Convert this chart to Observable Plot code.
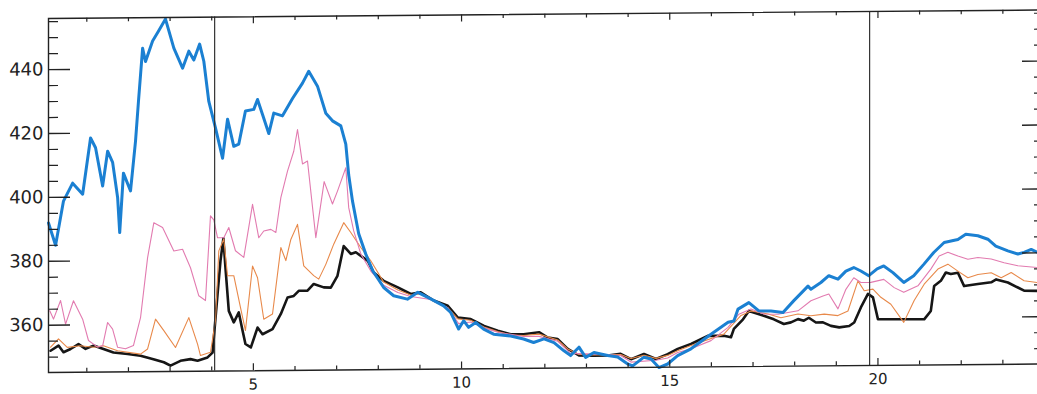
<!DOCTYPE html>
<html><head><meta charset="utf-8">
<script src="https://cdn.jsdelivr.net/npm/d3@7"></script>
<script src="https://cdn.jsdelivr.net/npm/@observablehq/plot@0.6"></script>
<style>
html,body{margin:0;padding:0;background:#fff;overflow:hidden}
#wrap{width:1037px;height:394px;overflow:hidden;position:relative;background:#fff}
#wrap svg{max-width:none !important;display:block}
</style></head><body><div id="wrap"></div>
<script>
// [hour, value] pairs
const blue = [[0.08,392],[0.25,385],[0.44,398.8],[0.66,404.4],[0.90,400.9],[1.09,418.5],[1.21,415.4],[1.38,403.4],[1.50,414.3],[1.62,410.8],[1.74,399.8],[1.79,388.8],[1.88,407.4],[2.05,401.8],[2.17,417.4],[2.24,429.7],[2.34,446.4],[2.41,442.3],[2.58,448.7],[2.72,451.7],[2.89,455.5],[3.09,446.4],[3.30,440.1],[3.45,445.4],[3.57,442.6],[3.71,447.6],[3.81,442.2],[3.93,429.6],[4.09,421.3],[4.26,411.8],[4.38,424],[4.53,415.5],[4.65,416.2],[4.81,426.5],[5.01,427],[5.10,430.1],[5.22,425.4],[5.37,419.4],[5.49,425.8],[5.70,424.9],[5.94,430.3],[6.18,435.1],[6.33,438.8],[6.54,434.1],[6.74,425.6],[6.90,423.2],[7.10,421.6],[7.22,415.9],[7.29,406.2],[7.38,398.1],[7.53,387.8],[7.70,381.4],[7.87,376.1],[8.13,370.9],[8.37,368.3],[8.70,367.2],[8.95,369.3],[9.26,367.2],[9.57,365],[9.74,362.9],[9.93,357.7],[10.05,360.3],[10.17,358.2],[10.34,359.7],[10.53,357.6],[10.77,356],[11.18,355.4],[11.49,354.4],[11.73,353.3],[11.98,354.4],[12.22,353.2],[12.46,350.6],[12.62,349.1],[12.82,351.7],[12.98,348.5],[13.18,350],[13.51,349],[13.75,348.5],[13.99,346.3],[14.11,345.7],[14.38,348.4],[14.55,347.8],[14.74,345.1],[14.95,346.2],[15.19,348.8],[15.51,350.9],[15.99,355.4],[16.40,359.1],[16.54,359.5],[16.64,363.2],[16.90,365.2],[17.14,362.6],[17.43,362.5],[17.72,362],[17.98,365.7],[18.32,370.2],[18.39,369.2],[18.63,371.3],[18.82,373.4],[19.04,372.3],[19.23,374.8],[19.42,375.9],[19.59,374.8],[19.78,373.3],[19.98,375.4],[20.14,376.3],[20.36,374.2],[20.62,371.1],[20.86,373.2],[21.10,376.7],[21.34,380.4],[21.59,383.5],[21.92,384.4],[22.11,386],[22.40,385.5],[22.64,384.4],[22.83,382.2],[23.12,380.7],[23.36,379.7],[23.51,380.2],[23.68,381.1],[23.84,380.1],[24.00,379.8]];

const black = [[0.13,352],[0.32,353.6],[0.44,351.5],[0.61,352.5],[0.80,354],[0.97,352.5],[1.16,353.5],[1.40,352.4],[1.64,351.3],[1.98,350.8],[2.29,350.2],[2.60,349.1],[2.85,348.1],[3.01,347],[3.25,348.5],[3.49,349],[3.66,348.5],[3.90,349.5],[4.02,351],[4.14,369.3],[4.21,379.7],[4.28,386.7],[4.33,377.5],[4.41,364],[4.53,360.4],[4.65,363.5],[4.74,357.8],[4.81,353.6],[4.94,352.5],[5.10,358.7],[5.22,356.6],[5.46,358.2],[5.66,362.9],[5.82,368],[5.97,368.5],[6.09,370.1],[6.30,370.1],[6.45,372.2],[6.69,371.1],[6.86,371],[7.02,374.7],[7.17,384],[7.34,381.5],[7.46,382],[7.75,379.3],[7.89,375.6],[8.13,373],[8.47,370.9],[8.78,368.8],[9.02,369.3],[9.33,366.7],[9.67,365],[9.91,361.3],[10.22,360.8],[10.54,358.6],[10.87,357.1],[11.18,355.9],[11.49,355.9],[11.86,356.5],[12.07,354.8],[12.31,354.3],[12.55,351.2],[12.82,349.1],[13.18,349],[13.51,349],[13.82,349.5],[14.07,347.8],[14.38,349.4],[14.67,347.8],[14.95,349.3],[15.19,350.9],[15.51,352.4],[15.91,354.9],[16.30,354.9],[16.47,354.4],[16.54,357],[16.76,360],[16.90,362.6],[17.24,361.1],[17.50,359.9],[17.74,358.4],[17.91,358.9],[18.08,359.9],[18.22,359.4],[18.34,360.3],[18.51,358.8],[18.68,358.8],[18.87,357.7],[19.07,357.2],[19.31,357.6],[19.43,358.7],[19.59,363.4],[19.76,367.6],[19.88,366.5],[20.00,359.7],[21.11,359.5],[21.27,362.1],[21.35,369.9],[21.51,371.5],[21.63,374.1],[21.75,373.6],[21.92,374],[22.07,369.8],[22.40,370.4],[22.72,370.9],[22.84,371.8],[23.12,370.8],[23.36,369.2],[23.51,368.2],[23.84,368.1],[24.00,368.1]];

const orange = [[0.13,353.1],[0.32,355.7],[0.53,353.0],[0.85,353.5],[1.16,353.0],[1.40,353.4],[1.74,351.8],[2.29,350.7],[2.46,352.3],[2.65,361.6],[2.85,358.0],[3.13,352.7],[3.45,362.0],[3.66,353.7],[3.73,350.1],[3.97,351.1],[4.09,360.9],[4.17,382.8],[4.29,386.5],[4.38,375.0],[4.53,375.0],[4.69,365.1],[4.81,357.8],[4.98,378.0],[5.10,374.3],[5.25,361.3],[5.46,362.9],[5.66,383.7],[5.78,379.6],[5.90,386.2],[6.06,390.9],[6.21,377.9],[6.45,374.8],[6.57,373.7],[6.74,378.3],[6.93,384.6],[7.17,391.3],[7.34,388.2],[7.58,383.5],[7.82,379.3],[8.13,372.6],[8.47,370.1],[8.78,368.5],[9.02,368.8],[9.33,366.5],[9.67,364.4],[9.91,360.9],[10.22,360.4],[10.54,358.3],[10.87,356.8],[11.18,355.7],[11.49,355.5],[11.86,355.9],[12.31,354.0],[12.55,351.2],[12.82,349.4],[13.18,349.2],[13.82,349.3],[14.07,348.0],[14.38,349.0],[14.67,348.0],[14.95,348.9],[15.19,350.3],[15.51,351.9],[16.30,355.4],[16.70,361.1],[16.95,362.6],[17.36,361.6],[17.67,360.4],[18.08,361.5],[18.39,360.9],[18.71,361.4],[19.04,360.9],[19.28,362.3],[19.52,371.7],[19.67,368.6],[19.88,369.1],[20.07,366.5],[20.31,364.3],[20.62,358.6],[20.87,365.4],[21.11,370.5],[21.44,375.2],[21.68,376.7],[21.92,374.5],[22.16,372.4],[22.40,373.4],[22.72,373.9],[22.96,372.3],[23.20,373.9],[23.51,371.3],[23.84,370.7],[24.00,370.5]];

const pink = [[0.11,364.5],[0.20,361.9],[0.37,367.7],[0.49,360.3],[0.68,367.6],[0.90,361.8],[1.04,355.1],[1.26,353.0],[1.38,353.4],[1.50,360.7],[1.62,358.6],[1.74,352.9],[1.93,352.4],[2.12,353.4],[2.29,362.1],[2.46,380.9],[2.61,391.8],[2.82,390.3],[3.09,382.9],[3.30,383.4],[3.49,377.6],[3.69,368.8],[3.85,367.3],[3.97,393.8],[4.05,392.5],[4.14,386.9],[4.29,386.9],[4.41,390.1],[4.57,382.8],[4.77,380.7],[4.98,397.3],[5.13,386.8],[5.25,388.9],[5.42,389.4],[5.54,388.4],[5.66,399.3],[5.82,407.6],[5.97,413.8],[6.06,420.6],[6.18,409.8],[6.30,410.7],[6.50,386.7],[6.70,404.2],[6.90,397.2],[7.02,401.2],[7.22,408.5],[7.29,396.0],[7.41,388.7],[7.58,381.5],[7.82,376.1],[8.13,371.6],[8.47,369.3],[8.78,368.0],[9.26,367.0],[9.67,364.4],[9.93,359.4],[10.22,359.9],[10.54,358.0],[10.87,356.6],[11.49,355.2],[11.86,355.2],[12.31,353.6],[12.62,349.8],[13.18,349.5],[13.82,349.0],[14.07,346.9],[14.67,347.4],[14.95,348.1],[15.19,349.8],[15.51,350.9],[15.99,353.4],[16.40,357.5],[16.66,361.6],[16.95,363.2],[17.26,361.6],[17.60,361.5],[18.08,362.5],[18.39,365.6],[18.68,367.1],[18.82,367.7],[19.04,363.0],[19.23,369.1],[19.42,372.7],[19.59,371.2],[19.83,371.2],[20.14,372.1],[20.39,369.5],[20.62,368.0],[20.96,370.0],[21.27,375.2],[21.47,379.3],[21.68,380.4],[21.92,379.2],[22.16,378.2],[22.40,378.7],[22.72,378.2],[23.03,377.0],[23.36,376.0],[23.84,375.4],[24.00,375.3]];

const eventHours = [4.07, 19.8];
const xMajor = [5, 10, 15, 20];
const xMinor = [1,2,3,4,6,7,8,9,11,12,13,14,16,17,18,19,21,22,23];
const yMajor = [360, 380, 400, 420, 440];
const yMinor = [350,355,365,370,375,385,390,395,405,410,415,425,430,435,445,450,455];

const W = 1044, H = 394, ML = 48, MR = 0, MT = 18, MB = 22;
const plotW = W - ML - MR, plotH = H - MT - MB;

const seriesStyle = [
  {data: black,  stroke: "#161616", width: 2.6},
  {data: orange, stroke: "#e8894a", width: 1.1},
  {data: pink,   stroke: "#e27bb0", width: 1.1},
  {data: blue,   stroke: "#1b80d2", width: 3}
];

const lineMarks = seriesStyle.map(s => Plot.line(s.data, {
  x: d => d[0], y: d => d[1], stroke: s.stroke, strokeWidth: s.width,
  strokeLinejoin: "round", strokeLinecap: "round"
}));

// inward-pointing ticks drawn as short rules on the scales' tick values
const yTicks = (ticks, side, n, w) => Plot.ruleY(ticks, {
  stroke: "#222", strokeWidth: w,
  ...(side === "left" ? {insetRight: plotW - n} : {insetLeft: plotW - n})
});
const xTicks = (ticks, side, n, w) => Plot.ruleX(ticks, {
  stroke: "#222", strokeWidth: w,
  ...(side === "bottom" ? {insetTop: plotH - n} : {insetBottom: plotH - n})
});

const chart = Plot.plot({
  width: W, height: H,
  marginLeft: ML, marginRight: MR, marginTop: MT, marginBottom: MB,
  x: {domain: [0.08, 24], label: null},
  y: {domain: [345.2, 456], label: null},
  style: {fontFamily: "DejaVu Sans", color: "#222", background: "#fff"},
  marks: [
    ...lineMarks,
    Plot.ruleX(eventHours, {stroke: "#333", strokeWidth: 1.2}),
    Plot.frame({stroke: "#222", strokeWidth: 1.4}),
    yTicks(yMajor, "left", 22, 1.4),
    yTicks(yMinor, "left", 10, 1.2),
    yTicks(yMajor, "right", 22, 1.4),
    yTicks(yMinor, "right", 10, 1.2),
    xTicks(xMajor, "bottom", 7, 1.2),
    xTicks(xMinor, "bottom", 4, 1.2),
    xTicks(xMajor, "top", 7, 1.2),
    xTicks(xMinor, "top", 4, 1.2),
    Plot.axisY(yMajor, {anchor: "left", tickSize: 0, tickPadding: 5, fontSize: 18, label: null}),
    Plot.axisX(xMajor, {anchor: "bottom", tickSize: 0, tickPadding: 8, fontSize: 15, label: null})
  ]
});

// the scanned original is slightly sheared (right side ~8px higher): reproduce it inside the SVG
const shear = 0.00855;
const g = document.createElementNS("http://www.w3.org/2000/svg", "g");
g.setAttribute("transform", `matrix(1,${-shear},0,1,0,${shear * ML})`);
while (chart.firstChild) g.appendChild(chart.firstChild);
chart.appendChild(g);
document.getElementById("wrap").appendChild(chart);
</script>
</body></html>
